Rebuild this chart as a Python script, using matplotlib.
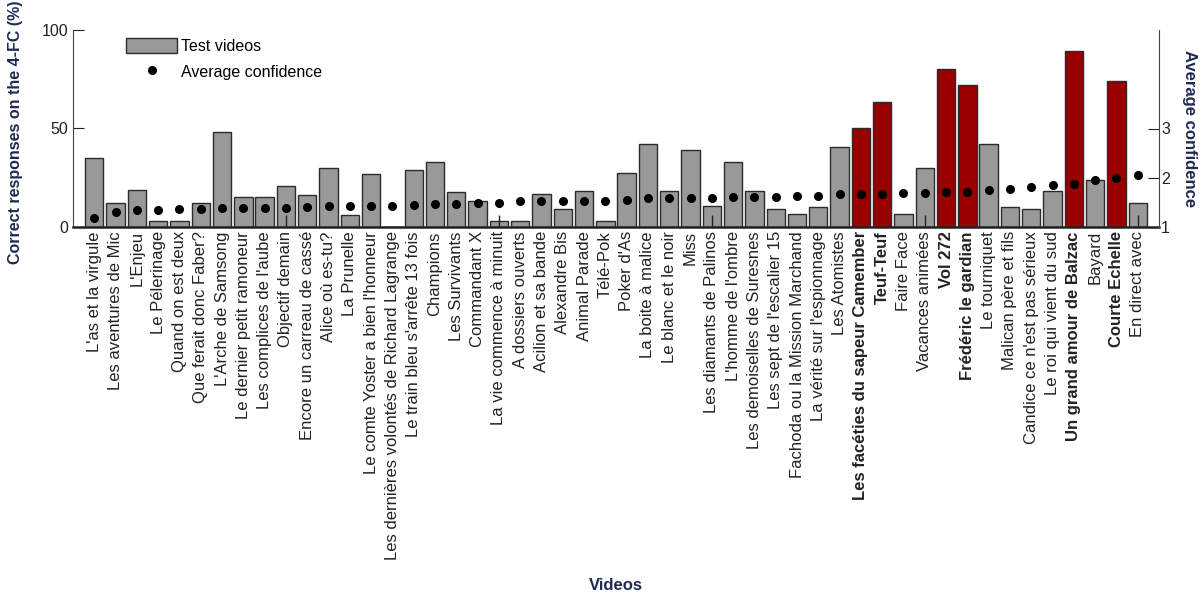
import matplotlib.pyplot as plt
import numpy as np

plt.rcParams['font.family'] = ['Liberation Sans', 'DejaVu Sans']

videos = ["L'as et la virgule", "Les aventures de Mic", "L'Enjeu", "Le Pélerinage",
          "Quand on est deux", "Que ferait donc Faber?", "L'Arche de Samsong",
          "Le dernier petit ramoneur", "Les complices de l'aube", "Objectif demain",
          "Encore un carreau de cassé", "Alice où es-tu?", "La Prunelle",
          "Le comte Yoster a bien l'honneur", "Les dernières volontés de Richard Lagrange",
          "Le train bleu s'arrête 13 fois", "Champions", "Les Survivants", "Commandant X",
          "La vie commence à minuit", "A dossiers ouverts", "Acilion et sa bande",
          "Alexandre Bis", "Animal Parade", "Télé-Pok", "Poker d'As", "La boite à malice",
          "Le blanc et le noir", "Miss", "Les diamants de Palinos", "L'homme de l'ombre",
          "Les demoiselles de Suresnes", "Les sept de l'escalier 15",
          "Fachoda ou la Mission Marchand", "La vérité sur l'espionnage", "Les Atomistes",
          "Les facéties du sapeur Camember", "Teuf-Teuf", "Faire Face", "Vacances animées",
          "Vol 272", "Frédéric le gardian", "Le tourniquet", "Malican père et fils",
          "Candice ce n'est pas sérieux", "Le roi qui vient du sud",
          "Un grand amour de Balzac", "Bayard", "Courte Echelle", "En direct avec"]

# % correct responses on the 4-FC
correct = [35, 12, 19, 3, 3, 12, 48, 15, 15, 21,
           16, 30, 6, 27, 0, 29, 33, 18, 13, 3,
           3, 16.5, 9, 18.5, 3, 27.5, 42, 18.5, 39, 10.5,
           33, 18.5, 9, 6.5, 10, 40.5, 50, 63.5, 6.5, 30,
           80, 72, 42, 10, 9, 18.5, 89.5, 24, 74, 12]

# average confidence (right axis)
confidence = [1.18, 1.31, 1.34, 1.35, 1.37, 1.37, 1.39, 1.39, 1.39, 1.39,
              1.41, 1.43, 1.43, 1.43, 1.43, 1.44, 1.46, 1.46, 1.48, 1.49,
              1.52, 1.52, 1.52, 1.52, 1.52, 1.54, 1.58, 1.58, 1.58, 1.58,
              1.61, 1.61, 1.61, 1.63, 1.63, 1.66, 1.66, 1.67, 1.69, 1.70,
              1.71, 1.72, 1.76, 1.78, 1.82, 1.85, 1.87, 1.96, 1.99, 2.06]

highlighted = ["Les facéties du sapeur Camember", "Teuf-Teuf", "Vol 272",
               "Frédéric le gardian", "Un grand amour de Balzac", "Courte Echelle"]

navy = '#1f2b53'
x = np.arange(1, len(videos) + 1)
colors = ['#990000' if v in highlighted else '#999999' for v in videos]

fig = plt.figure(figsize=(12.01, 5.93), dpi=100)
ax = fig.add_axes([73 / 1201, 1 - 227 / 593, (1159 - 73) / 1201, (227 - 30) / 593])

bars = ax.bar(x, correct, width=0.86, color=colors, edgecolor='#2b2b2b', linewidth=1.0)
ax.set_xlim(0, 51)
ax.set_ylim(0, 100)
ax.set_yticks([0, 50, 100])

ax.set_xticks(x)
ax.set_xticklabels(videos, rotation=90, fontsize=12)
for lbl in ax.get_xticklabels():
    if lbl.get_text() in highlighted:
        lbl.set_fontweight('bold')
ax.tick_params(axis='x', which='major', length=0, pad=3, colors='#222222')
# matlab-ish inner ticks every 10
ax.set_xticks([10, 20, 30, 40, 50], minor=True)
ax.xaxis.remove_overlapping_locs = False
ax.tick_params(axis='x', which='minor', direction='in', length=8.5, width=1, color='#222222')
ax.tick_params(axis='y', direction='in', length=8, labelsize=11.5, colors='#222222')

ax.spines['top'].set_visible(False)
ax.spines['right'].set_visible(False)
ax.spines['bottom'].set_linewidth(1.8)
ax.spines['bottom'].set_color('#222222')
ax.spines['left'].set_color('#444444')

ax.set_ylabel('Correct responses on the 4-FC (%)', fontsize=11.5, fontweight='bold', color=navy)
ax.yaxis.label.set_va('center')
ax.yaxis.set_label_coords(-0.0534, 0.48)
ax.set_xlabel('Videos', fontsize=12, fontweight='bold', color=navy)
ax.xaxis.label.set_va('center')
ax.xaxis.set_label_coords(0.5, -1.822)

ax2 = ax.twinx()
dots, = ax2.plot(x, confidence, 'o', color='black', ms=5.5)
ax2.set_ylim(1, 5)
ax2.set_yticks([1, 2, 3])
ax2.tick_params(direction='in', length=8, labelsize=11.5, pad=1.5, colors='#222222')
for s in ['top', 'left', 'bottom']:
    ax2.spines[s].set_visible(False)
ax2.spines['right'].set_color('#444444')

ax2.set_ylabel('Average confidence', fontsize=12, fontweight='bold', color=navy, rotation=270)
ax2.yaxis.label.set_va('center')
ax2.yaxis.set_label_coords(1.0285, 0.5)

ax2.legend([bars, dots], ['Test videos', 'Average confidence'], loc='upper left',
           bbox_to_anchor=(0.049, 0.96), frameon=False, fontsize=11.5,
           handlelength=3.2, handleheight=1.1, handletextpad=0.2,
           labelspacing=0.6, borderpad=0, borderaxespad=0)

fig.savefig('out.png', dpi=100)
